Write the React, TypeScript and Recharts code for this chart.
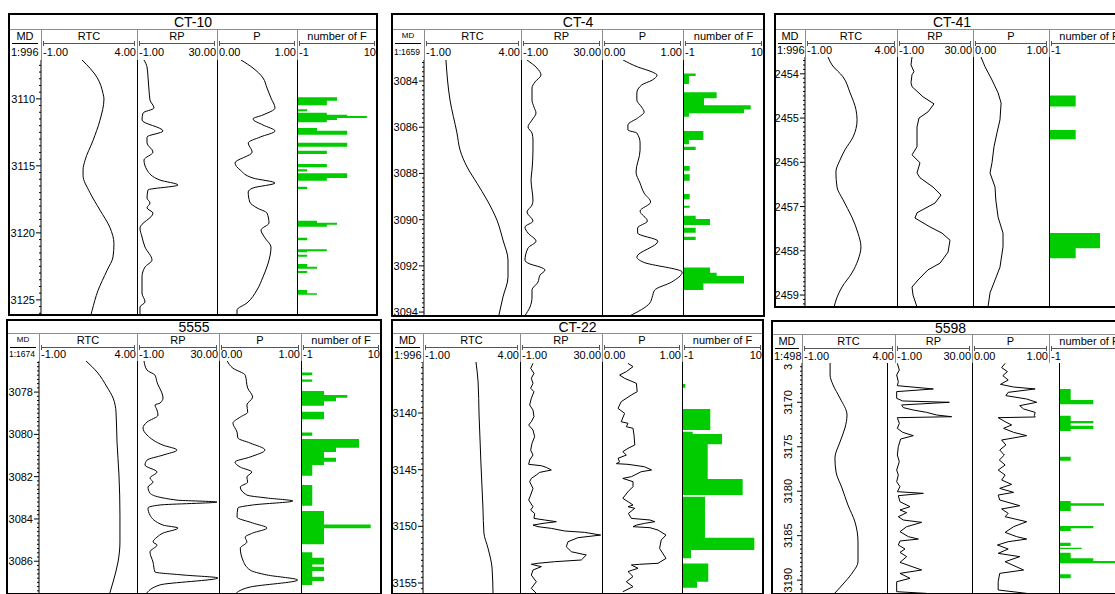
import React from 'react'
import { LineChart, Line, AreaChart, Area, XAxis, YAxis } from 'recharts'

type Pt = [number, number] // [depth (m), value]

const FONT = '"Liberation Sans", Arial, sans-serif'

// ---------- CT-10 ----------
const CT10_RTC: Pt[] = [[3107.1, 1.14], [3108.4, 1.92], [3109.6, 2.23], [3110.0, 2.28], [3111.6, 2.07], [3113.1, 1.71], [3114.6, 1.29], [3115.3, 1.19], [3115.7, 1.19], [3117.0, 1.55], [3118.3, 2.07], [3119.6, 2.59], [3120.8, 2.8], [3121.8, 2.75], [3122.8, 2.44], [3124.3, 1.97], [3125.8, 1.66], [3126.13, 1.6]]
const CT10_RP: Pt[] = [[3107.1, 1.71], [3107.62, 2.88], [3108.37, 3.26], [3109.34, 3.65], [3110.09, 4.04], [3110.68, 5.59], [3111.06, 1.33], [3111.58, 0.94], [3112.4, 9.08], [3112.85, 2.88], [3113.29, 2.88], [3113.97, 5.2], [3114.56, 1.71], [3115.31, 2.88], [3116.06, 7.91], [3116.43, 14.89], [3116.8, 3.26], [3117.4, 2.88], [3117.77, 4.04], [3118.14, 2.88], [3118.52, 5.2], [3119.64, 0.16], [3120.31, 0.94], [3121.06, 2.1], [3122.03, 4.81], [3122.55, 2.1], [3123.29, 0.94], [3124.49, 0.94], [3125.16, 2.1], [3125.53, 0.16], [3126.13, 0.16]]
const CT10_P: Pt[] = [[3107.1, 0.3], [3107.7, 0.45], [3108.44, 0.575], [3109.19, 0.625], [3109.94, 0.675], [3110.68, 0.725], [3111.2, 0.575], [3111.5, 0.45], [3111.95, 0.575], [3112.4, 0.725], [3112.85, 0.54], [3113.29, 0.39], [3113.97, 0.44], [3114.79, 0.225], [3115.31, 0.29], [3115.91, 0.45], [3116.28, 0.725], [3116.65, 0.45], [3116.95, 0.39], [3117.7, 0.41], [3118.14, 0.5], [3118.52, 0.625], [3119.26, 0.65], [3119.79, 0.55], [3120.38, 0.6], [3121.06, 0.675], [3122.25, 0.64], [3123.29, 0.575], [3124.26, 0.5], [3125.23, 0.375], [3125.76, 0.25], [3126.13, 0.25]]
const CT10_F: Pt[] = [[3109.88, 4.5], [3110.14, 3.1], [3110.48, -1], [3110.78, 0.4], [3110.93, -1], [3111.03, 3.1], [3111.18, 5.9], [3111.28, 8.6], [3111.43, 4.5], [3111.58, 3.1], [3111.75, -1], [3112.17, 1.75], [3112.38, 5.9], [3112.67, -1], [3113.27, 5.9], [3113.57, -1], [3113.87, 3.1], [3114.11, -1], [3114.86, 3.1], [3115.11, -1], [3115.26, 0.4], [3115.43, -1], [3115.56, 5.9], [3115.91, 3.1], [3116.11, -1], [3116.55, 0.4], [3116.73, -1], [3119.09, 1.75], [3119.24, 4.5], [3119.39, 3.1], [3119.54, -1], [3120.36, 0.4], [3120.56, -1], [3121.23, 3.1], [3121.38, 0.4], [3121.45, -1], [3121.63, 0.4], [3121.78, -1], [3122.32, 0.4], [3122.52, 1.75], [3122.67, -1], [3122.85, 0.4], [3123.0, -1], [3124.26, 0.4], [3124.51, 1.75], [3124.61, -1]]

// ---------- CT-4 ----------
const CT4_RTC: Pt[] = [[3083.09, 0.13], [3084.82, 0.34], [3086.25, 0.7], [3086.99, 0.86], [3087.72, 1.22], [3088.42, 1.73], [3089.15, 2.25], [3090.02, 2.76], [3090.88, 3.07], [3091.75, 3.33], [3092.48, 3.33], [3093.35, 3.07], [3094.17, 2.85]]
const CT4_RP: Pt[] = [[3083.09, 1.3], [3083.44, 5.12], [3083.74, 6.65], [3084.04, 4.36], [3084.3, 3.21], [3084.82, 3.21], [3085.13, 3.98], [3085.39, 4.74], [3085.69, 3.21], [3085.99, 1.68], [3086.25, 3.21], [3086.55, 3.59], [3086.99, 3.59], [3087.85, 3.21], [3088.29, 2.83], [3088.72, 3.21], [3089.15, 3.59], [3089.37, 3.21], [3089.67, 1.3], [3090.06, 3.59], [3090.32, 0.53], [3090.58, 1.68], [3090.93, 4.74], [3091.23, 1.68], [3091.75, 0.53], [3091.92, 2.44], [3092.05, 6.27], [3092.18, 8.18], [3092.4, 6.27], [3092.7, 5.51], [3093.05, 3.21], [3093.35, 3.21], [3093.78, 2.44], [3094.17, 0.4]]
const CT4_P: Pt[] = [[3083.09, 0.26], [3083.39, 0.44], [3083.61, 0.62], [3083.74, 0.68], [3083.96, 0.62], [3084.17, 0.49], [3084.52, 0.43], [3084.82, 0.43], [3085.13, 0.49], [3085.34, 0.52], [3085.6, 0.44], [3085.9, 0.32], [3086.12, 0.32], [3086.25, 0.43], [3086.68, 0.47], [3086.99, 0.47], [3087.94, 0.42], [3088.42, 0.47], [3088.85, 0.52], [3089.24, 0.6], [3089.63, 0.47], [3090.06, 0.56], [3090.36, 0.44], [3090.58, 0.44], [3090.93, 0.69], [3091.62, 0.43], [3091.84, 0.51], [3092.27, 0.99], [3092.7, 0.86], [3093.05, 0.65], [3093.35, 0.62], [3093.61, 0.59], [3094.17, 0.34]]
const CT4_F: Pt[] = [[3083.67, 0.72], [3083.78, -0.19], [3084.13, -1], [3084.49, 3.57], [3084.75, 1.85], [3085.05, 8.19], [3085.23, 7.28], [3085.4, -0.19], [3085.55, -1], [3086.16, 1.76], [3086.55, -0.19], [3086.74, -1], [3086.84, 0.72], [3086.99, -1], [3087.68, -0.09], [3087.88, -1], [3088.04, -0.09], [3088.32, -1], [3088.89, -0.09], [3089.12, -1], [3089.4, -0.09], [3089.48, -1], [3089.83, 0.72], [3089.97, 2.67], [3090.23, -1], [3090.35, 0.72], [3090.57, -1], [3090.74, 0.72], [3090.88, -1], [3092.07, 2.67], [3092.3, 3.57], [3092.44, 7.28], [3092.76, 1.76], [3093.05, -1]]

// ---------- CT-41 ----------
const CT41_RTC: Pt[] = [[2453.62, 0.25], [2453.8, 0.47], [2454.07, 1.07], [2454.43, 1.45], [2454.81, 1.77], [2455.04, 1.83], [2455.43, 1.61], [2455.72, 1.17], [2455.95, 0.9], [2456.22, 0.68], [2456.56, 0.74], [2456.85, 1.07], [2457.24, 1.55], [2457.6, 1.88], [2457.91, 2.04], [2458.21, 1.88], [2458.5, 1.55], [2458.82, 1.01], [2459.05, 0.74], [2459.27, 0.58]]
const CT41_RP: Pt[] = [[2453.62, 5.12], [2453.8, 4.71], [2453.95, 5.94], [2454.02, 5.12], [2454.2, 4.71], [2454.29, 5.12], [2454.52, 9.61], [2454.68, 14.1], [2454.86, 11.65], [2455.0, 7.98], [2455.2, 7.16], [2455.65, 7.16], [2455.83, 5.12], [2456.01, 8.38], [2456.24, 7.16], [2456.35, 8.38], [2456.56, 13.69], [2456.74, 16.95], [2456.92, 14.5], [2457.14, 7.16], [2457.26, 6.34], [2457.46, 12.46], [2457.6, 17.36], [2457.76, 20.62], [2458.03, 19.81], [2458.28, 16.54], [2458.43, 11.65], [2458.66, 7.57], [2458.82, 5.12], [2459.0, 5.53], [2459.27, 7.16]]
const CT41_P: Pt[] = [[2453.62, 0.105], [2453.84, 0.158], [2454.14, 0.25], [2454.43, 0.33], [2454.66, 0.37], [2455.04, 0.355], [2455.33, 0.316], [2455.65, 0.276], [2456.01, 0.25], [2456.24, 0.224], [2456.56, 0.29], [2456.85, 0.3], [2457.24, 0.33], [2457.6, 0.395], [2457.91, 0.395], [2458.37, 0.355], [2458.66, 0.29], [2458.95, 0.224], [2459.27, 0.197]]
const CT41_F: Pt[] = [[2454.49, 2.53], [2454.74, -1], [2455.27, 2.53], [2455.48, -1], [2457.6, 5.88], [2457.94, 2.53], [2458.17, -1]]

// ---------- 5555 ----------
const W5555_RTC: Pt[] = [[3076.53, 1.4], [3077.05, 1.96], [3077.76, 2.47], [3078.28, 2.78], [3078.95, 2.93], [3080.36, 2.98], [3081.92, 3.08], [3083.82, 3.13], [3085.09, 3.13], [3086.04, 3.03], [3086.98, 2.78], [3087.55, 2.6]]
const W5555_RP: Pt[] = [[3076.53, 1.65], [3076.96, 2.78], [3077.2, 5.8], [3077.53, 6.56], [3078.28, 8.83], [3078.52, 7.69], [3078.61, 5.8], [3078.85, 6.56], [3079.09, 6.94], [3079.42, 2.78], [3079.7, 1.27], [3080.03, 2.78], [3080.51, 8.83], [3080.74, 14.12], [3080.98, 8.83], [3081.22, 2.78], [3081.45, 2.02], [3081.78, 6.56], [3082.07, 3.91], [3082.26, 5.05], [3082.49, 3.16], [3082.78, 3.91], [3083.11, 14.12], [3083.2, 29.24], [3083.34, 7.69], [3083.48, 3.16], [3083.82, 3.91], [3084.29, 8.83], [3084.43, 14.5], [3084.67, 8.83], [3084.86, 6.56], [3085.09, 5.05], [3085.23, 6.56], [3085.56, 3.91], [3086.04, 5.05], [3086.51, 5.8], [3086.65, 16.39], [3086.79, 29.6], [3087.12, 7.69], [3087.55, 2.4]]
const W5555_P: Pt[] = [[3076.53, 0.1], [3076.87, 0.17], [3077.2, 0.32], [3077.81, 0.35], [3078.24, 0.41], [3078.61, 0.34], [3078.95, 0.35], [3079.18, 0.26], [3079.47, 0.17], [3079.89, 0.22], [3080.17, 0.23], [3080.41, 0.38], [3080.74, 0.56], [3081.07, 0.38], [3081.31, 0.195], [3081.55, 0.26], [3081.78, 0.4], [3082.02, 0.34], [3082.26, 0.35], [3082.49, 0.26], [3082.87, 0.34], [3083.01, 0.585], [3083.15, 0.9], [3083.34, 0.41], [3083.48, 0.23], [3083.91, 0.22], [3084.19, 0.41], [3084.43, 0.585], [3084.67, 0.41], [3084.86, 0.32], [3085.09, 0.34], [3085.38, 0.26], [3085.94, 0.29], [3086.42, 0.38], [3086.65, 0.585], [3086.89, 0.96], [3087.22, 0.38], [3087.55, 0.2]]
const W5555_F: Pt[] = [[3077.07, 0.55], [3077.2, -1], [3077.4, 0.55], [3077.51, -1], [3077.95, 2.16], [3078.14, 5.37], [3078.27, 3.81], [3078.43, 2.16], [3078.65, -1], [3078.93, 2.16], [3079.28, -1], [3079.91, 0.55], [3080.07, -1], [3080.22, 6.98], [3080.63, 3.81], [3080.83, 2.16], [3081.11, 3.81], [3081.3, 2.16], [3081.45, 0.55], [3081.96, -1], [3082.4, 0.55], [3083.38, -1], [3083.63, 2.16], [3084.26, 8.58], [3084.44, 2.16], [3085.2, -1], [3085.58, 0.55], [3085.83, 2.16], [3086.15, 0.55], [3086.26, 2.16], [3086.46, 0.55], [3086.73, 2.16], [3086.94, 0.55], [3087.13, -1]]

// ---------- CT-22 ----------
const CT22_RTC: Pt[] = [[3135.5, 1.73], [3137.26, 1.84], [3140.18, 1.89], [3144.59, 1.99], [3148.38, 2.09], [3150.59, 2.14], [3151.92, 2.35], [3153.68, 2.56], [3155.97, 2.61]]
const CT22_RP: Pt[] = [[3135.62, 3.91], [3136.06, 3.03], [3136.5, 4.29], [3136.94, 3.28], [3137.38, 3.91], [3137.82, 3.03], [3138.12, 4.29], [3138.71, 3.28], [3139.29, 2.65], [3139.74, 3.91], [3140.32, 4.29], [3140.77, 3.28], [3141.06, 2.28], [3141.5, 3.91], [3142.09, 4.54], [3142.68, 3.54], [3143.27, 3.03], [3143.71, 3.91], [3144.15, 2.65], [3144.53, 2.28], [3144.65, 7.06], [3144.8, 8.95], [3145.03, 10.84], [3145.24, 6.43], [3145.47, 5.17], [3145.77, 3.28], [3146.06, 2.65], [3146.65, 3.91], [3147.24, 3.03], [3147.68, 2.28], [3148.27, 3.91], [3148.56, 3.03], [3148.86, 4.54], [3149.3, 4.29], [3149.44, 8.33], [3149.59, 12.73], [3149.74, 7.69], [3149.89, 3.91], [3150.03, 5.8], [3150.18, 10.84], [3150.41, 15.88], [3150.53, 23.44], [3150.77, 29.49], [3151.0, 20.92], [3151.36, 17.14], [3151.8, 16.51], [3152.24, 18.4], [3152.53, 24.07], [3152.97, 22.18], [3153.12, 12.1], [3153.26, 5.8], [3153.35, 3.28], [3153.56, 7.06], [3153.85, 3.91], [3154.3, 3.28], [3154.89, 5.17], [3155.47, 3.28], [3155.91, 5.17]]
const CT22_P: Pt[] = [[3135.62, 0.325], [3135.91, 0.3875], [3136.35, 0.304], [3136.65, 0.22], [3136.94, 0.283], [3137.38, 0.43], [3138.12, 0.44], [3138.41, 0.367], [3139.0, 0.24], [3139.59, 0.2], [3140.03, 0.283], [3140.77, 0.24], [3140.91, 0.325], [3141.21, 0.304], [3141.35, 0.3875], [3141.94, 0.4], [3142.82, 0.41], [3143.12, 0.325], [3143.41, 0.26], [3143.71, 0.304], [3144.0, 0.2], [3144.3, 0.22], [3144.47, 0.18], [3144.53, 0.325], [3144.74, 0.53], [3145.03, 0.62], [3145.18, 0.49], [3145.62, 0.367], [3145.77, 0.26], [3146.06, 0.3875], [3146.5, 0.3875], [3146.94, 0.325], [3147.53, 0.26], [3147.82, 0.325], [3148.12, 0.3875], [3148.27, 0.325], [3148.41, 0.41], [3148.86, 0.33], [3149.3, 0.367], [3149.44, 0.6], [3149.59, 0.66], [3149.74, 0.53], [3149.89, 0.43], [3150.03, 0.3875], [3150.12, 0.6], [3150.33, 0.7], [3150.77, 0.8], [3151.21, 0.74], [3151.95, 0.72], [3152.83, 0.8], [3153.26, 0.7], [3153.35, 0.47], [3153.41, 0.367], [3153.7, 0.45], [3153.99, 0.325], [3154.43, 0.3875], [3154.89, 0.304], [3155.32, 0.3875], [3155.77, 0.26]]
const CT22_F: Pt[] = [[3137.44, -0.55], [3137.77, -1], [3139.65, 2.84], [3141.5, -1], [3141.65, 0.45], [3141.85, 4.43], [3142.76, 2.49], [3145.83, 7.24], [3147.24, -1], [3147.39, 2.12], [3151.01, 8.82], [3152.09, 0.22], [3152.82, -1], [3153.27, 2.57], [3154.89, 1.04], [3155.42, -1]]

// ---------- 5598 ----------
const W5598_RTC: Pt[] = [[3165.58, 0.51], [3166.93, 0.51], [3168.05, 0.67], [3169.52, 1.04], [3171.43, 1.42], [3172.89, 1.31], [3174.47, 1.04], [3176.27, 0.77], [3177.84, 0.83], [3179.64, 1.15], [3181.55, 1.47], [3183.47, 1.85], [3185.7, 2.01], [3187.95, 2.01], [3189.08, 1.74], [3190.2, 1.31], [3191.56, 0.72]]
const W5598_RP: Pt[] = [[3165.62, -0.06], [3166.37, 0.74], [3166.93, -0.33], [3167.68, 0.34], [3168.13, -0.06], [3168.5, 14.43], [3168.8, -0.33], [3169.55, -0.33], [3169.85, 2.09], [3170.0, 20.87], [3170.3, 1.68], [3170.6, 2.35], [3170.87, 6.38], [3171.13, 11.75], [3171.43, 15.78], [3171.62, 21.81], [3171.73, -0.06], [3172.37, 0.74], [3172.93, -0.06], [3173.38, 2.09], [3173.75, 6.38], [3174.13, 1.28], [3174.99, 0.34], [3175.93, -0.06], [3176.68, 0.74], [3177.62, -0.33], [3178.18, 0.34], [3178.93, -0.33], [3179.49, 1.01], [3180.05, -0.06], [3180.24, 10.41], [3180.5, 0.34], [3181.18, 1.01], [3181.74, 5.04], [3182.11, 1.01], [3182.41, 3.7], [3182.87, 0.34], [3183.24, 2.35], [3183.5, 9.74], [3183.99, 3.7], [3184.55, 1.01], [3185.11, 4.37], [3185.38, 8.4], [3185.6, 1.01], [3186.05, 0.34], [3186.5, 3.03], [3186.88, 1.01], [3187.36, 3.7], [3188.0, 1.01], [3188.86, 9.74], [3189.24, 1.01], [3189.8, 5.04], [3190.18, -0.33], [3191.3, -0.33], [3191.49, 11.75]]
const W5598_P: Pt[] = [[3165.62, 0.43], [3166.1, 0.385], [3166.55, 0.46], [3167.0, 0.4], [3167.49, 0.47], [3167.98, 0.37], [3168.28, 0.54], [3168.5, 0.82], [3168.88, 0.47], [3169.25, 0.44], [3169.63, 0.71], [3170.0, 0.84], [3170.38, 0.62], [3170.75, 0.67], [3171.13, 0.82], [3171.5, 0.81], [3171.65, 0.82], [3171.73, 0.34], [3172.18, 0.43], [3172.55, 0.515], [3172.93, 0.41], [3173.38, 0.54], [3173.75, 0.71], [3174.24, 0.385], [3174.8, 0.44], [3175.37, 0.36], [3175.93, 0.42], [3176.49, 0.355], [3177.05, 0.43], [3177.62, 0.34], [3178.18, 0.43], [3178.74, 0.385], [3179.23, 0.515], [3179.68, 0.36], [3180.13, 0.54], [3180.43, 0.34], [3180.99, 0.36], [3181.63, 0.62], [3182.0, 0.385], [3182.49, 0.47], [3182.87, 0.43], [3183.43, 0.71], [3183.99, 0.54], [3184.63, 0.43], [3185.11, 0.58], [3185.38, 0.71], [3185.68, 0.47], [3186.05, 0.33], [3186.5, 0.47], [3186.99, 0.34], [3187.36, 0.62], [3187.93, 0.43], [3188.86, 0.67], [3189.24, 0.36], [3190.18, 0.34], [3191.11, 0.34], [3191.49, 0.71]]
const W5598_F: Pt[] = [[3168.5, 0.47], [3169.74, 3.58], [3170.22, -1], [3171.51, 0.47], [3172.1, 3.58], [3172.36, 0.47], [3172.63, 3.58], [3173.0, 0.47], [3173.23, -1], [3176.12, 0.47], [3176.57, -1], [3181.1, 0.47], [3181.36, 5.05], [3181.63, 0.47], [3182.23, -1], [3183.91, 3.58], [3184.17, 0.47], [3184.48, -1], [3185.79, 0.47], [3186.16, -1], [3186.36, 1.98], [3186.5, -1], [3186.92, 0.47], [3187.55, 3.58], [3187.85, 6.56], [3188.11, -1], [3189.35, 0.47], [3189.8, -1]]

// depth labels per well
const CT10_LABELS = [3110, 3115, 3120, 3125]
const CT4_LABELS = [3084, 3086, 3088, 3090, 3092, 3094]
const CT41_LABELS = [2454, 2455, 2456, 2457, 2458, 2459]
const W5555_LABELS = [3078, 3080, 3082, 3084, 3086]
const CT22_LABELS = [3140, 3145, 3150, 3155]
const W5598_LABELS = [3165, 3170, 3175, 3180, 3185, 3190]

const TRACK_NAMES = ['RTC', 'RP', 'P', 'number of F']
const TRACK_MIN = ['-1.00', '-1.00', '0.00', '-1']
const TRACK_MAX = ['4.00', '30.00', '1.00', '10']
const TRACK_DOMAIN: [number, number][] = [[-1, 4], [-1, 30], [0, 1], [-1, 10]]

type PanelCfg = {
  name: string
  scale: string
  left: number
  right: number
  top: number
  titleH: number
  cols: number[]
  dataCols?: number[]
  fLeft?: number
  dataTop: number
  dataBottom: number
  depth: [number, number]
  labels: number[]
  minor: number
  rotate?: boolean
  rpType: 'monotone' | 'linear'
  curves: Pt[][]
  f: Pt[]
}

const PANELS: PanelCfg[] = [
  { name: 'CT-10', scale: '1:996', left: 9, right: 377, top: 13, titleH: 16, cols: [41, 137, 217, 297], dataTop: 60, dataBottom: 315, depth: [3107.1, 3126.13], labels: CT10_LABELS, minor: 0.5, rpType: 'monotone', curves: [CT10_RTC, CT10_RP, CT10_P], f: CT10_F },
  { name: 'CT-4', scale: '1:1659', left: 392, right: 764, top: 13, titleH: 16, cols: [424, 521, 602, 683], dataTop: 60, dataBottom: 316, depth: [3083.09, 3094.17], labels: CT4_LABELS, minor: 0.2, rpType: 'monotone', curves: [CT4_RTC, CT4_RP, CT4_P], f: CT4_F },
  { name: 'CT-41', scale: '1:996', left: 775, right: 1129, top: 13, titleH: 16, cols: [805, 897, 973, 1049], fLeft: 1050, dataTop: 57, dataBottom: 307, depth: [2453.62, 2459.27], labels: CT41_LABELS, minor: 0.1, rpType: 'linear', curves: [CT41_RTC, CT41_RP, CT41_P], f: CT41_F },
  { name: '5555', scale: '1:1674', left: 7, right: 381, top: 319, titleH: 14, cols: [39, 137, 219, 301], dataTop: 361, dataBottom: 594, depth: [3076.53, 3087.55], labels: W5555_LABELS, minor: 0.2, rpType: 'monotone', curves: [W5555_RTC, W5555_RP, W5555_P], f: W5555_F },
  { name: 'CT-22', scale: '1:996', left: 392, right: 763, top: 319, titleH: 14, cols: [423, 520, 602, 682], dataTop: 362, dataBottom: 594, depth: [3135.5, 3155.97], labels: CT22_LABELS, minor: 0.5, rpType: 'linear', curves: [CT22_RTC, CT22_RP, CT22_P], f: CT22_F },
  { name: '5598', scale: '1:498', left: 772, right: 1129, top: 320, titleH: 14, cols: [802, 895, 972, 1049], dataCols: [802, 887, 972, 1059], fLeft: 1060, dataTop: 363, dataBottom: 594, depth: [3165.58, 3191.56], labels: W5598_LABELS, minor: 0.5, rotate: true, rpType: 'linear', curves: [W5598_RTC, W5598_RP, W5598_P], f: W5598_F },
]

const NO_MARGIN = { top: 0, right: 0, bottom: 0, left: 0 }

function Txt({ x, y, size = 11, anchor = 'middle', children }: { x: number; y: number; size?: number; anchor?: string; children: React.ReactNode }) {
  const tx = anchor === 'middle' ? '-50%' : anchor === 'end' ? '-100%' : '0'
  return (
    <div style={{ position: 'absolute', left: x, top: y, transform: `translate(${tx}, -50%)`, fontSize: size, lineHeight: 1, whiteSpace: 'nowrap', fontFamily: FONT, color: '#000' }}>
      {children}
    </div>
  )
}

function Rect({ x, y, w, h, c }: { x: number; y: number; w: number; h: number; c: string }) {
  return <div style={{ position: 'absolute', left: x, top: y, width: w, height: h, background: c }} />
}

function depthTicks(p: PanelCfg) {
  const out: number[] = [...p.labels]
  const a = Math.ceil(p.depth[0] / p.minor - 1e-6)
  const b = Math.floor(p.depth[1] / p.minor + 1e-6)
  for (let i = a; i <= b; i++) {
    const v = +(i * p.minor).toFixed(2)
    if (!p.labels.some((l) => Math.abs(l - v) < 1e-6)) out.push(v)
  }
  return out.sort((m, n) => m - n)
}

function DepthAxis({ p }: { p: PanelCfg }) {
  const w = p.cols[0] - p.left
  const h = p.dataBottom - p.dataTop
  const ticks = depthTicks(p)
  const rows = ticks.map((d) => ({ d }))
  const renderTick = (props: any) => {
    const { x, y, payload } = props
    const v = payload.value
    const major = p.labels.includes(v)
    if (!major) return <line x1={x - 2} x2={x} y1={y} y2={y} stroke="#000" />
    return (
      <g>
        <line x1={x - 5} x2={x} y1={y} y2={y} stroke="#000" />
        {p.rotate ? (
          <text x={x - 14} y={y} transform={`rotate(-90 ${x - 14} ${y})`} textAnchor="middle" dominantBaseline="central" fontSize={11} fontFamily={FONT} fill="#000">{v}</text>
        ) : (
          <text x={x - 6} y={y} textAnchor="end" dominantBaseline="central" fontSize={11} fontFamily={FONT} fill="#000">{v}</text>
        )}
      </g>
    )
  }
  return (
    <div style={{ position: 'absolute', left: p.left, top: p.dataTop }}>
      <LineChart layout="vertical" width={w + 1} height={h} data={rows} margin={NO_MARGIN}>
        <XAxis type="number" domain={[0, 1]} hide />
        <YAxis type="number" dataKey="d" domain={p.depth} allowDataOverflow width={w} ticks={ticks} interval={0} tickSize={0} tickMargin={0} tickLine={false} axisLine={{ stroke: '#000' }} tick={renderTick} />
      </LineChart>
    </div>
  )
}

function CurveTrack({ x0, x1, p, data, domain, type }: { x0: number; x1: number; p: PanelCfg; data: Pt[]; domain: [number, number]; type: 'monotone' | 'linear' }) {
  const rows = data.map(([d, v]) => ({ d, v }))
  return (
    <div style={{ position: 'absolute', left: x0, top: p.dataTop }}>
      <LineChart layout="vertical" width={x1 - x0} height={p.dataBottom - p.dataTop} data={rows} margin={NO_MARGIN}>
        <XAxis type="number" domain={domain} hide allowDataOverflow />
        <YAxis type="number" dataKey="d" domain={p.depth} hide allowDataOverflow />
        <Line dataKey="v" type={type} stroke="#000" strokeWidth={1} dot={false} isAnimationActive={false} />
      </LineChart>
    </div>
  )
}

function FTrack({ p }: { p: PanelCfg }) {
  const x0 = p.fLeft ?? p.cols[3]
  const w = p.right - p.cols[3]
  const rows = p.f.map(([d, v]) => ({ d, v }))
  return (
    <div style={{ position: 'absolute', left: x0, top: p.dataTop }}>
      <AreaChart layout="vertical" width={w} height={p.dataBottom - p.dataTop} data={rows} margin={NO_MARGIN}>
        <XAxis type="number" domain={TRACK_DOMAIN[3]} hide allowDataOverflow />
        <YAxis type="number" dataKey="d" domain={p.depth} hide allowDataOverflow />
        <Area dataKey="v" type="stepBefore" baseValue={-1} stroke="none" fill="#00cc00" fillOpacity={1} isAnimationActive={false} />
      </AreaChart>
    </div>
  )
}

function Panel({ p }: { p: PanelCfg }) {
  const tl = p.top + p.titleH
  const nameY = tl + 7
  const brY = tl + 14
  const scaleY = (brY + p.dataTop) / 2
  const edges = [...p.cols, p.right]
  const dcols = p.dataCols ?? p.cols
  const gray = '#8c8c8c'
  const small = p.scale.length > 5
  return (
    <>
      <Rect x={p.left} y={p.top} w={p.right - p.left} h={p.dataBottom - p.top} c="#fff" />
      <DepthAxis p={p} />
      {p.curves.map((c, i) => (
        <CurveTrack key={i} x0={edges[i]} x1={edges[i + 1]} p={p} data={c} domain={TRACK_DOMAIN[i]} type={i === 0 ? 'monotone' : p.rpType} />
      ))}
      <FTrack p={p} />

      {/* header */}
      <Txt x={(p.left + p.right) / 2} y={p.top + p.titleH / 2 + 0.5} size={14}>{p.name}</Txt>
      <Rect x={p.left} y={tl} w={p.right - p.left} h={1} c={gray} />
      <Txt x={(p.left + p.cols[0]) / 2} y={nameY} size={small ? 8 : 11}>MD</Txt>
      <Rect x={p.left + 3} y={brY} w={p.cols[0] - p.left - 6} h={1} c="#000" />
      <Txt x={p.left + 2} y={scaleY} size={small ? 8.5 : 11} anchor="start">{p.scale}</Txt>
      {TRACK_NAMES.map((n, i) => {
        const a = edges[i]
        const b = edges[i + 1]
        return (
          <React.Fragment key={n}>
            <Txt x={(a + b) / 2} y={nameY}>{n}</Txt>
            <Rect x={a + 2} y={brY} w={b - a - 4} h={1} c="#555" />
            <Rect x={a + 2} y={brY - 2} w={1} h={5} c="#555" />
            <Rect x={b - 3} y={brY - 2} w={1} h={5} c="#555" />
            <Txt x={a + 2} y={scaleY} anchor="start">{TRACK_MIN[i]}</Txt>
            <Txt x={b - 1} y={scaleY} anchor="end">{TRACK_MAX[i]}</Txt>
            <Rect x={a} y={tl} w={1} h={p.dataTop - tl} c={gray} />
          </React.Fragment>
        )
      })}

      {/* data dividers */}
      {dcols.slice(1).map((x) => (
        <Rect key={x} x={x} y={p.dataTop} w={1} h={p.dataBottom - p.dataTop} c="#000" />
      ))}

      {/* frame */}
      <Rect x={p.left} y={p.top} w={p.right - p.left} h={2} c="#000" />
      <Rect x={p.left - 1} y={p.top} w={2} h={p.dataBottom - p.top} c="#000" />
      <Rect x={p.right - 1} y={p.top} w={2} h={p.dataBottom - p.top} c="#000" />
      <Rect x={p.left - 1} y={p.dataBottom - 1} w={p.right - p.left + 2} h={2} c="#000" />
    </>
  )
}

export default function App() {
  return (
    <div style={{ position: 'absolute', left: 0, top: 0, width: 1115, height: 594, overflow: 'hidden', background: '#fff', fontFamily: FONT }}>
      {PANELS.map((p) => (
        <Panel key={p.name} p={p} />
      ))}
    </div>
  )
}
